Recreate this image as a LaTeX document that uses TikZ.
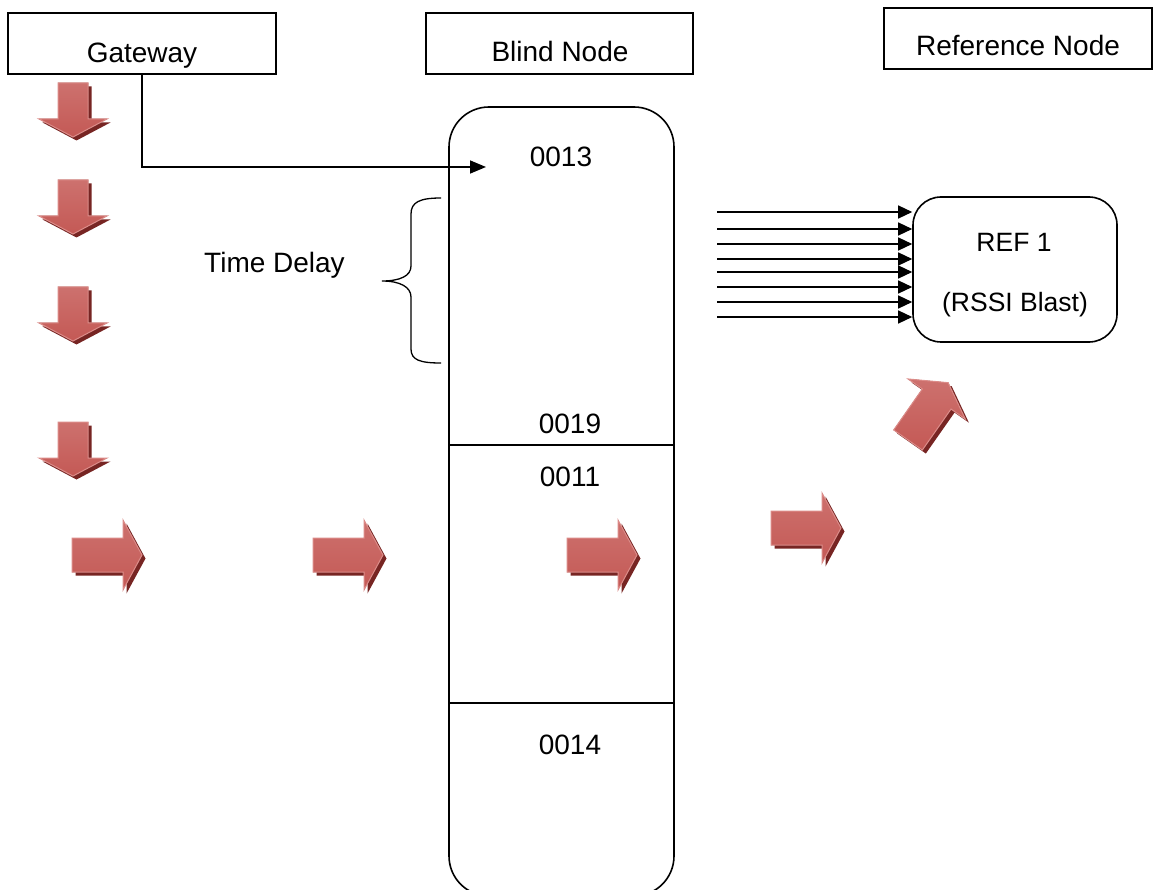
\documentclass[tikz,border=0pt]{standalone}
\usepackage{fontspec}
\setmainfont{Liberation Sans}
\usetikzlibrary{arrows.meta}

\definecolor{arrowred}{HTML}{C0504D}
\definecolor{arrowlight}{HTML}{CD716E}
\definecolor{arrowlow}{HTML}{C45955}
\definecolor{arrowedge}{HTML}{DC8C89}
\definecolor{arrowshadow}{HTML}{772523}

% outline of a block arrow pointing along +x, tail centred at the origin
% #1 length, #2 shaft half-width, #3 head half-width, #4 head length
\newcommand\arrowoutline[4]{(0,-#2) -- ({#1-#4},-#2) -- ({#1-#4},-#3) -- (#1,0) -- ({#1-#4},#3) -- ({#1-#4},#2) -- (0,#2) -- cycle}

% shaded red block arrow with a dark drop shadow
% #1,#2 tail centre, #3 angle, #4 length, #5 shaft half-width, #6 head half-width, #7 head length
\newcommand\redarrow[7]{%
  \begin{scope}[shift={(#1+3.5,#2+3.5)},rotate=#3]
    \fill[arrowshadow] \arrowoutline{#4}{#5}{#6}{#7};
  \end{scope}
  \begin{scope}[shift={(#1,#2)},rotate=#3]
    \filldraw[blockbody] \arrowoutline{#4}{#5}{#6}{#7};
  \end{scope}}

\tikzset{
  box/.style={draw, line width=1.6pt, rectangle, inner sep=0pt},
  lbl/.style={font=\fontsize{28}{32}\selectfont, inner sep=0pt, anchor=base},
  smalllbl/.style={font=\fontsize{26.5}{30}\selectfont, inner sep=0pt, anchor=base},
  conn/.style={line width=1.6pt, -{Triangle[length=16pt,width=13pt]}},
  blast/.style={line width=1.3pt, -{Triangle[length=14pt,width=13pt]}},
  blockbody/.style={top color=arrowlight, middle color=arrowred, bottom color=arrowlow,
                    draw=arrowedge, line width=1pt, line join=miter},
}

\begin{document}
\begin{tikzpicture}[x=1pt,y=-1pt]
  \useasboundingbox (0,0) rectangle (1153,890);
  \fill[white] (0,0) rectangle (1153,890);

  % header boxes
  \node[box, minimum width=268pt, minimum height=61pt] (gw) at (142,43.5) {};
  \node[lbl] (gwtext) at (142,63) {Gateway};
  \node[box, minimum width=267pt, minimum height=61pt] (bnhead) at (559.5,43.5) {};
  \node[lbl] (bntext) at (560,62) {Blind Node};
  \node[box, minimum width=268pt, minimum height=61pt] (rnhead) at (1018,38.5) {};
  \node[lbl] (rntext) at (1018,56) {Reference Node};

  % blind node column with its slots
  \node[box, rounded corners=40pt, minimum width=225pt, minimum height=789pt] (blind) at (561.5,501.5) {};
  \draw[line width=1.6pt] (blind.west |- 0,445) -- (blind.east |- 0,445);
  \draw[line width=1.6pt] (blind.west |- 0,703) -- (blind.east |- 0,703);
  \node[lbl] (n13) at (561,167) {0013};
  \node[lbl] (n19) at (570,433) {0019};
  \node[lbl] (n11) at (570,486) {0011};
  \node[lbl] (n14) at (570,754) {0014};

  % gateway request into the blind node
  \coordinate (gwend) at (486,167);
  \draw[conn] (gw.south) |- (gwend);

  % time delay brace
  \draw[line width=1.3pt]
    (441,198) .. controls (420,198) and (411,202) .. (411,214)
    -- (411,266) .. controls (411,276) and (400,281) .. (382,281)
    .. controls (400,281) and (411,287) .. (411,297)
    -- (411,349) .. controls (411,360) and (420,363) .. (441,363);
  \node[lbl] (delay) at (274.5,273) {Time Delay};

  % reference node
  \node[box, rounded corners=28pt, minimum width=204pt, minimum height=145pt] (ref) at (1015,269.5) {};
  \node[smalllbl] (reftext) at (1014,252) {REF 1};
  \node[smalllbl] (rssitext) at (1015,312) {(RSSI Blast)};

  % RSSI blast packets
  \foreach \i/\yy in {1/212,2/229,3/244,4/259,5/272,6/287,7/302,8/317}{
    \coordinate (s\i) at (717,\yy);
    \draw[blast] (s\i) -- (s\i -| ref.west);
  }

  % flow arrows
  \redarrow{73}{83}{-90}{54}{15}{34}{18}
  \redarrow{73}{180}{-90}{54}{15}{34}{18}
  \redarrow{73}{287}{-90}{54}{15}{34}{18}
  \redarrow{73}{422}{-90}{54}{15}{34}{18}
  \redarrow{72}{555}{0}{70}{17}{35}{19}
  \redarrow{313}{555}{0}{70}{17}{35}{19}
  \redarrow{567}{555}{0}{70}{17}{35}{19}
  \redarrow{771}{528}{0}{70}{17}{35}{19}
  \redarrow{908}{440}{55}{70}{17.5}{35}{20}
\end{tikzpicture}
\end{document}
